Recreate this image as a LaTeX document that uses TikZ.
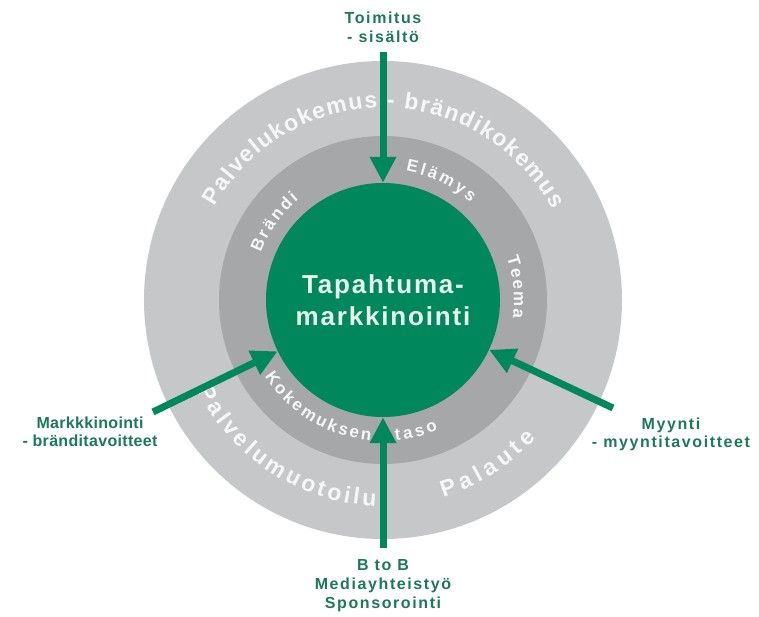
\documentclass[tikz,border=0pt]{standalone}
\usepackage{fontspec}
\setmainfont{Liberation Sans}
\newfontfamily\lblfont{Liberation Sans}[LetterSpace=10]
\newfontfamily\lblfontb{Liberation Sans}[LetterSpace=2]
\newfontfamily\corefont{Liberation Sans}[LetterSpace=7]
\usetikzlibrary{arrows.meta,decorations.text}
\definecolor{gcore}{RGB}{0,135,92}
\definecolor{glabel}{RGB}{28,122,88}
\definecolor{ringouter}{RGB}{198,199,201}
\definecolor{ringmid}{RGB}{166,167,169}
\definecolor{coretext}{RGB}{232,246,236}
\definecolor{ringtext}{RGB}{246,247,247}
\begin{document}
\begin{tikzpicture}[x=1pt,y=1pt,
  ringdisc/.style={circle, inner sep=0pt, draw=none},
  arr/.style={draw=gcore, line width=7pt, -{Triangle[length=26pt,width=25pt]}},
  lbl/.style={text=glabel, font=\lblfont\bfseries\fontsize{16}{19}\selectfont, align=center, inner sep=1pt},
  outertext/.style={decorate, decoration={text along path, text align={fit to path},
     text={|\color{ringtext}\bfseries\fontsize{23}{23}\selectfont|#1}}},
  innertext/.style={decorate, decoration={text along path, text align={fit to path},
     text={|\color{ringtext}\bfseries\fontsize{17}{17}\selectfont|#1}}}]
\useasboundingbox (-383,-317) rectangle (376,300);
\fill[white] (-383,-317) rectangle (376,300);
\node[ringdisc, fill=ringouter, minimum size=478pt] (outerring) at (0,0) {};
\node[ringdisc, fill=ringmid, minimum size=328pt] (midring) at (0,0) {};
\node[ringdisc, fill=gcore, minimum size=234pt, text=coretext, align=center,
  font=\corefont\bfseries\fontsize{26}{32}\selectfont] (core) at (0,0) {Tapahtuma-\\markkinointi};
\path[outertext={Palvelukokemus - brändikokemus}] (151:192) arc[start angle=151,end angle=28,radius=192];
\path[outertext={Palvelumuotoilu}] (206:206) arc[start angle=206,end angle=268,radius=206];
\path[outertext={Palaute}] (287:206) arc[start angle=287,end angle=318,radius=206];
\path[innertext={Brändi}] (159:131) arc[start angle=159,end angle=130,radius=131];
\path[innertext={Elämys}] (80:131) arc[start angle=80,end angle=48,radius=131];
\path[innertext={Teema}] (19:131) arc[start angle=19,end angle=-8,radius=131];
\path[innertext={Kokemuksen}] (213:141) arc[start angle=213,end angle=265,radius=141];
\path[innertext={taso}] (275:141) arc[start angle=275,end angle=293,radius=141];
\node[lbl] (toplabel) at (0,273) {Toimitus\\- sisältö};
\node[lbl] (botlabel) at (0,-286) {B to B\\Mediayhteistyö\\Sponsorointi};
\node[lbl, font=\lblfontb\bfseries\fontsize{16}{18}\selectfont] (leftlabel) at (-293,-132) {Markkkinointi\\- bränditavoitteet};
\node[lbl, font=\lblfont\bfseries\fontsize{16}{18}\selectfont] (rightlabel) at (288,-134) {Myynti\\- myyntitavoitteet};
\coordinate (topstart) at (0,248);
\coordinate (botstart) at (0,-248);
\coordinate (leftstart) at (-230,-112);
\coordinate (rightstart) at (230,-108);
\draw[arr] (topstart) -- (core);
\draw[arr] (botstart) -- (core);
\draw[arr] (leftstart) -- (core);
\draw[arr] (rightstart) -- (core);
\end{tikzpicture}
\end{document}
